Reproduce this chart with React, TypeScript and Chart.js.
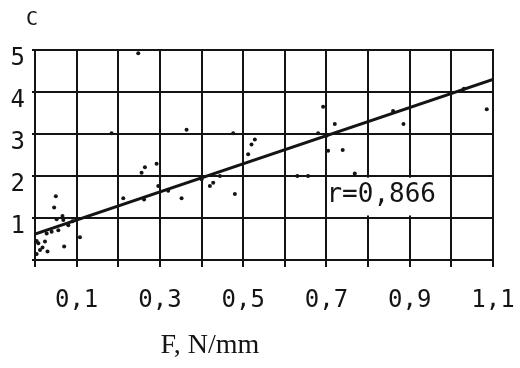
import React, { useEffect, useRef } from "react";
import { Chart, registerables } from "chart.js";

Chart.register(...registerables);

// Scatter data: F (N/mm) and C
const fValues = [
  0.004, 0.008, 0.012, 0.024, 0.004, 0.018, 0.028, 0.04, 0.056, 0.08,
  0.05, 0.046, 0.052, 0.066, 0.068, 0.09, 0.108, 0.07, 0.03,
  0.184, 0.212, 0.248, 0.256, 0.262, 0.264, 0.292, 0.296, 0.32, 0.352,
  0.364, 0.4, 0.42, 0.428, 0.444, 0.476, 0.48, 0.512, 0.52, 0.528,
  0.63, 0.656, 0.68, 0.692, 0.7, 0.72, 0.704, 0.739, 0.768, 0.86,
  0.885, 1.03, 1.085,
];
const cValues = [
  0.45, 0.4, 0.24, 0.44, 0.14, 0.3, 0.63, 0.67, 0.71, 0.83,
  1.52, 1.25, 0.97, 1.05, 0.95, 0.92, 0.54, 0.32, 0.2,
  3.02, 1.47, 4.92, 2.08, 1.44, 2.21, 2.29, 1.76, 1.65, 1.47,
  3.1, 1.92, 1.76, 1.84, 2.0, 3.02, 1.57, 2.52, 2.75, 2.87,
  2.0, 2.0, 3.02, 3.65, 2.96, 3.24, 2.6, 2.62, 2.06, 3.55,
  3.24, 4.08, 3.59,
];

// Regression line end points
const fitF = [0, 1.1];
const fitC = [0.615, 4.3];

// Axis grid positions and tick labels
const xGridValues = [0, 0.1, 0.2, 0.3, 0.4, 0.5, 0.6, 0.7, 0.8, 0.9, 1.0, 1.1];
const xTickValues = [0.1, 0.3, 0.5, 0.7, 0.9, 1.1];
const xTickLabels = ["0,1", "0,3", "0,5", "0,7", "0,9", "1,1"];
const yGridValues = [0, 1, 2, 3, 4, 5];
const yTickValues = [1, 2, 3, 4, 5];
const yTickLabels = ["1", "2", "3", "4", "5"];

const yTitle = "C";
const xTitle = "F, N/mm";
const rLabel = "r=0,866";

const INK = "#141414";

const overlayPlugin = {
  id: "overlay",
  afterDatasetsDraw(chart: any) {
    const { ctx, scales, chartArea } = chart;
    const x = scales.x;
    ctx.save();
    // vertical grid lines as solid bars at the x scale's grid positions
    ctx.fillStyle = INK;
    xGridValues.forEach((v) => {
      const px = Math.round(x.getPixelForValue(v));
      ctx.fillRect(px - 1, Math.round(chartArea.top) - 1, 2, Math.round(chartArea.bottom - chartArea.top) + 8);
    });
    ctx.restore();
  },
  afterDraw(chart: any) {
    const { ctx, scales } = chart;
    const x = scales.x;
    const y = scales.y;
    ctx.save();
    // white box behind correlation label
    const bx0 = x.getPixelForValue(0.713);
    const bx1 = x.getPixelForValue(0.99);
    const by0 = y.getPixelForValue(1.96);
    const by1 = y.getPixelForValue(1.06);
    ctx.fillStyle = "#ffffff";
    ctx.fillRect(bx0, by0, bx1 - bx0, by1 - by0);
    ctx.fillStyle = INK;
    ctx.font = '26px "DejaVu Sans Mono"';
    ctx.textAlign = "left";
    ctx.textBaseline = "middle";
    ctx.fillText(rLabel, x.getPixelForValue(0.7), y.getPixelForValue(1.55));
    // y title
    ctx.font = '20px "DejaVu Sans Mono"';
    ctx.textAlign = "center";
    ctx.fillText(yTitle, 32, 20);
    // x title
    ctx.font = '28px "Liberation Serif"';
    ctx.fillText(xTitle, x.getPixelForValue(0.42), 346);
    ctx.restore();
  },
};

const labelFor = (vals: number[], labels: string[]) => (v: any) => {
  const i = vals.findIndex((t) => Math.abs(t - Number(v)) < 1e-6);
  return i >= 0 ? labels[i] : "";
};

export default function App() {
  const ref = useRef<HTMLCanvasElement>(null);
  useEffect(() => {
    const chart = new Chart(ref.current as HTMLCanvasElement, {
      type: "scatter",
      data: {
        datasets: [
          {
            data: fValues.map((f, i) => ({ x: f, y: cValues[i] })),
            pointRadius: 2,
            pointBackgroundColor: INK,
            pointBorderWidth: 0,
            showLine: false,
          } as any,
          {
            type: "line",
            data: fitF.map((f, i) => ({ x: f, y: fitC[i] })),
            borderColor: INK,
            borderWidth: 3,
            pointRadius: 0,
            fill: false,
          } as any,
        ],
      },
      options: {
        responsive: false,
        animation: false,
        layout: { padding: { left: 0, right: 27, top: 50, bottom: 0 } },
        plugins: { legend: { display: false }, tooltip: { enabled: false } },
        scales: {
          x: {
            type: "linear",
            min: 0,
            max: 1.1,
            afterBuildTicks: (s: any) => {
              s.ticks = xGridValues.map((v) => ({ value: v }));
            },
            afterFit: (s: any) => {
              s.height = 108;
              s.paddingLeft = 0;
              s.paddingRight = 0;
            },
            grid: { color: INK, lineWidth: 2, tickLength: 7 },
            border: { color: INK, width: 2 },
            ticks: {
              autoSkip: false,
              maxRotation: 0,
              padding: 19,
              color: INK,
              font: { family: "DejaVu Sans Mono", size: 24 },
              callback: labelFor(xTickValues, xTickLabels),
            },
          },
          y: {
            type: "linear",
            min: 0,
            max: 5,
            afterBuildTicks: (s: any) => {
              s.ticks = yGridValues.map((v) => ({ value: v }));
            },
            afterFit: (s: any) => {
              s.width = 35;
              s.paddingTop = 0;
              s.paddingBottom = 0;
            },
            grid: { color: INK, lineWidth: 2, tickLength: 3 },
            border: { color: INK, width: 2 },
            ticks: {
              autoSkip: false,
              padding: 7,
              labelOffset: 9,
              color: INK,
              font: { family: "DejaVu Sans Mono", size: 24 },
              callback: labelFor(yTickValues, yTickLabels),
            },
          },
        },
      },
      plugins: [overlayPlugin],
    });
    return () => chart.destroy();
  }, []);
  return (
    <canvas
      ref={ref}
      width={520}
      height={368}
      style={{ position: "absolute", left: 0, top: 0, width: 520, height: 368, display: "block", background: "#fff" }}
    />
  );
}
